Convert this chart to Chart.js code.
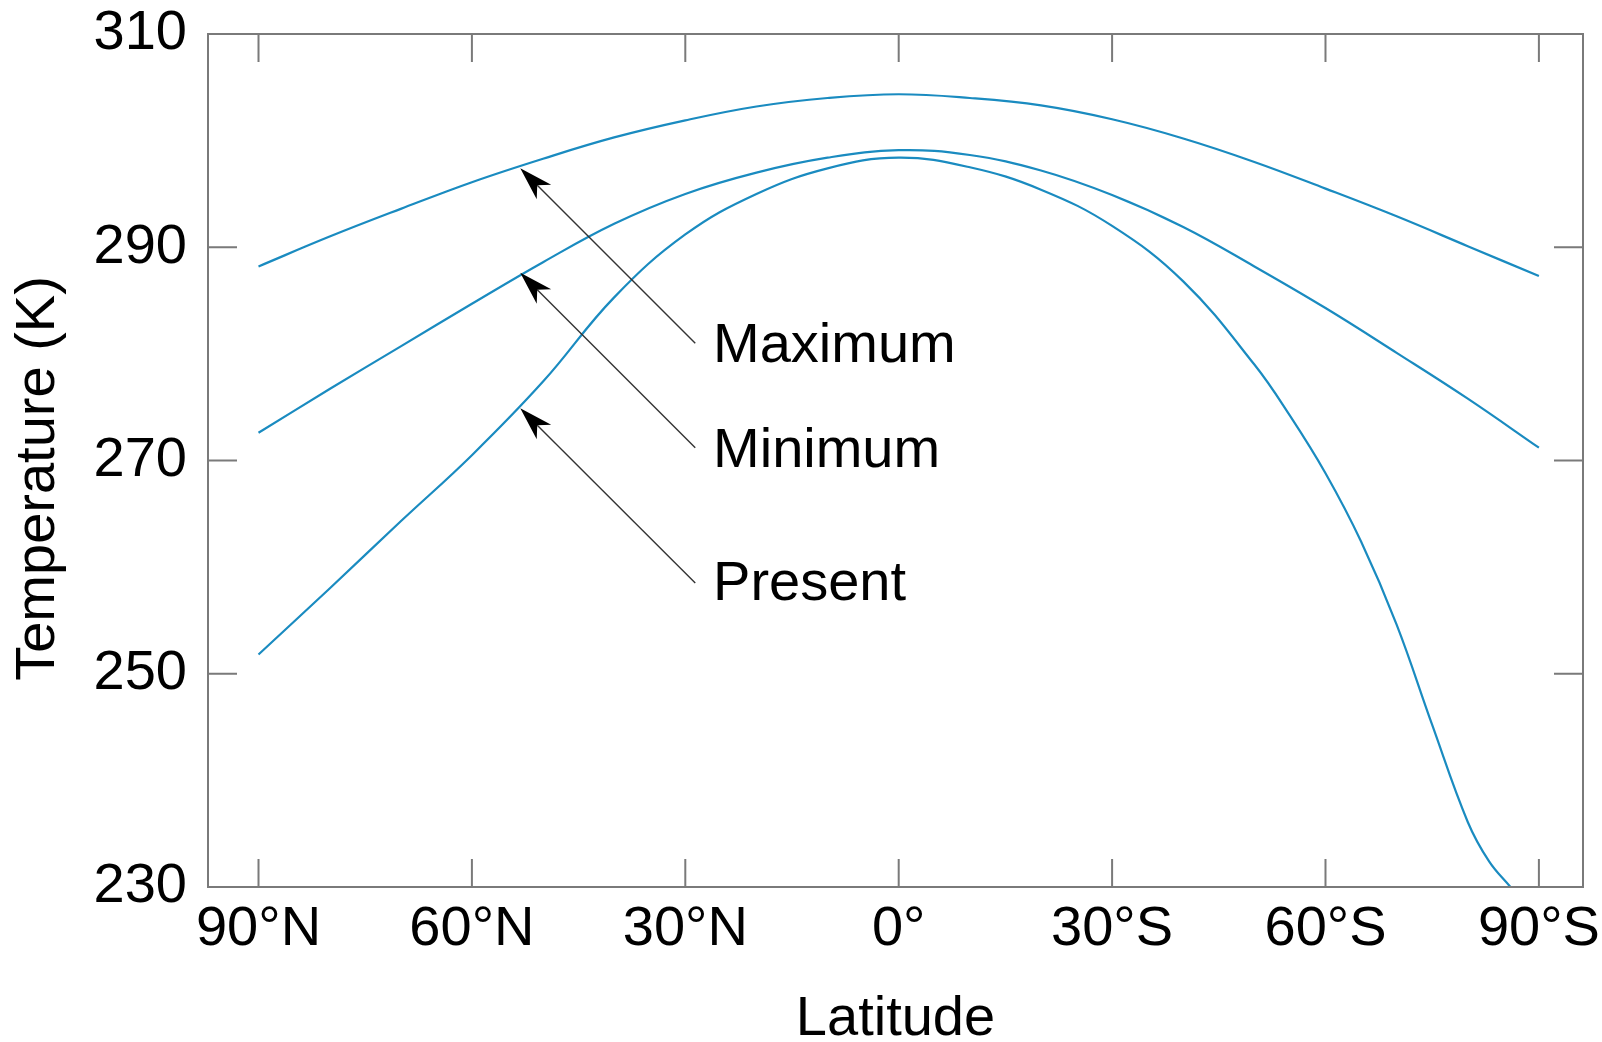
<!DOCTYPE html>
<html>
<head>
<meta charset="utf-8">
<script src="https://cdn.jsdelivr.net/npm/chart.js@4.4.1/dist/chart.umd.min.js"></script>
<style>
  html, body { margin: 0; padding: 0; background: #fff; }
  #wrap { width: 1602px; height: 1042px; }
</style>
</head>
<body>
<div id="wrap"><canvas id="tempChart"></canvas></div>
<script>
// latitude: negative = north, positive = south
var latitudes = [-90, -80, -70, -60, -50, -40, -30, -20, -10, 0, 10, 20, 30, 40, 50, 60, 70, 80, 90];
var maximumTemp = [288.2, 291.0, 293.6, 296.1, 298.3, 300.3, 301.9, 303.2, 304.0, 304.35, 304.0, 303.3, 302.0, 300.2, 298.0, 295.5, 292.9, 290.1, 287.3];
var minimumTemp = [272.6, 276.7, 280.7, 284.7, 288.6, 292.2, 295.0, 297.0, 298.4, 299.1, 298.65, 297.2, 294.9, 291.9, 288.2, 284.3, 280.1, 275.8, 271.2];
var presentLat = [-90, -80, -70, -60, -50, -40, -30, -20, -10, 0, 10, 20, 30, 40, 50, 55, 60, 65, 70, 75, 80, 83, 86];
var presentTemp = [251.8, 258.0, 264.3, 270.5, 277.4, 285.3, 291.2, 295.0, 297.4, 298.4, 297.5, 295.4, 292.0, 286.8, 279.0, 274.2, 268.8, 262.4, 254.6, 245.2, 236.1, 232.4, 230.0];

var latTicks = [-90, -60, -30, 0, 30, 60, 90];
var latTickLabels = ['90°N', '60°N', '30°N', '0°', '30°S', '60°S', '90°S'];
var tempTicks = [230, 250, 270, 290, 310];

// arrow annotations, in data units
var arrowNames = ['Maximum', 'Minimum', 'Present'];
var arrowTipLat = [-53.2, -53.2, -53.2];
var arrowTipTemp = [297.4, 287.6, 274.9];
var arrowTailLat = [-28.6, -28.6, -28.6];
var arrowTailTemp = [281.0, 271.2, 258.5];
var labelLat = -26.1;
var labelTemp = [279.2, 269.4, 256.9];

var lineColor = '#1a8bc0';
var fontFamily = '"Liberation Sans", Arial, Helvetica, sans-serif';

Chart.defaults.font.family = fontFamily;
Chart.defaults.color = '#000';

function toPoints(xs, ys) {
  return xs.map(function (x, i) { return { x: x, y: ys[i] }; });
}

function buildDataset(label, points) {
  return {
    label: label,
    data: points,
    borderColor: lineColor,
    backgroundColor: 'transparent',
    borderWidth: 2.2,
    pointRadius: 0,
    fill: false,
    tension: 0.4
  };
}

var framePlugin = {
  id: 'frame',
  afterDatasetsDraw: function (chart) {
    var ctx = chart.ctx, a = chart.chartArea;
    var xs = chart.scales.x, ys = chart.scales.y;
    ctx.save();
    ctx.strokeStyle = '#7a7a7a';
    ctx.lineWidth = 2;
    ctx.strokeRect(a.left, a.top, a.right - a.left, a.bottom - a.top);
    ctx.beginPath();
    latTicks.forEach(function (v) {
      var px = xs.getPixelForValue(v);
      ctx.moveTo(px, a.bottom); ctx.lineTo(px, a.bottom - 28);
      ctx.moveTo(px, a.top); ctx.lineTo(px, a.top + 28);
    });
    tempTicks.forEach(function (v) {
      var py = ys.getPixelForValue(v);
      ctx.moveTo(a.left, py); ctx.lineTo(a.left + 29, py);
      ctx.moveTo(a.right, py); ctx.lineTo(a.right - 29, py);
    });
    ctx.stroke();

    // y axis title, sits a little below the middle of the axis
    ctx.translate(39, (a.top + a.bottom) / 2 + 18);
    ctx.rotate(-Math.PI / 2);
    ctx.font = '56px ' + fontFamily;
    ctx.fillStyle = '#000';
    ctx.textAlign = 'center';
    ctx.textBaseline = 'middle';
    ctx.fillText('Temperature (K)', 0, 0);
    ctx.restore();
  }
};

var arrowPlugin = {
  id: 'arrows',
  afterDatasetsDraw: function (chart) {
    var ctx = chart.ctx;
    var xs = chart.scales.x, ys = chart.scales.y;
    ctx.save();
    arrowNames.forEach(function (name, i) {
      var tx = xs.getPixelForValue(arrowTipLat[i]), ty = ys.getPixelForValue(arrowTipTemp[i]);
      var sx = xs.getPixelForValue(arrowTailLat[i]), sy = ys.getPixelForValue(arrowTailTemp[i]);
      var ang = Math.atan2(sy - ty, sx - tx);
      var len = 35, spread = 17 * Math.PI / 180, notch = 24;

      ctx.strokeStyle = '#333';
      ctx.lineWidth = 1.4;
      ctx.beginPath();
      ctx.moveTo(sx, sy);
      ctx.lineTo(tx + notch * Math.cos(ang), ty + notch * Math.sin(ang));
      ctx.stroke();

      ctx.fillStyle = '#000';
      ctx.beginPath();
      ctx.moveTo(tx, ty);
      ctx.lineTo(tx + len * Math.cos(ang + spread), ty + len * Math.sin(ang + spread));
      ctx.lineTo(tx + notch * Math.cos(ang), ty + notch * Math.sin(ang));
      ctx.lineTo(tx + len * Math.cos(ang - spread), ty + len * Math.sin(ang - spread));
      ctx.closePath();
      ctx.fill();

      ctx.font = '56px ' + fontFamily;
      ctx.textAlign = 'left';
      ctx.textBaseline = 'alphabetic';
      ctx.fillText(name, xs.getPixelForValue(labelLat), ys.getPixelForValue(labelTemp[i]));
    });
    ctx.restore();
  }
};

new Chart(document.getElementById('tempChart'), {
  type: 'line',
  data: {
    datasets: [
      buildDataset('Maximum', toPoints(latitudes, maximumTemp)),
      buildDataset('Minimum', toPoints(latitudes, minimumTemp)),
      buildDataset('Present', toPoints(presentLat, presentTemp))
    ]
  },
  options: {
    responsive: true,
    maintainAspectRatio: false,
    animation: false,
    events: [],
    layout: { padding: { left: 11, top: 34, right: 19, bottom: 0 } },
    plugins: {
      legend: { display: false },
      tooltip: { enabled: false }
    },
    scales: {
      x: {
        type: 'linear',
        min: -97.1,
        max: 96.2,
        grid: { display: false, drawTicks: false },
        border: { display: false },
        afterBuildTicks: function (scale) {
          scale.ticks = latTicks.map(function (v) { return { value: v }; });
        },
        afterFit: function (scale) {
          scale.height = 155;
          scale.paddingLeft = 0;
          scale.paddingRight = 0;
        },
        ticks: {
          padding: 9,
          autoSkip: false,
          maxRotation: 0,
          font: { size: 56 },
          callback: function (v) { return latTickLabels[latTicks.indexOf(v)]; }
        },
        title: {
          display: true,
          text: 'Latitude',
          font: { size: 56, lineHeight: 0.8 },
          padding: 0
        }
      },
      y: {
        min: 230,
        max: 310,
        grid: { display: false, drawTicks: false },
        border: { display: false },
        afterBuildTicks: function (scale) {
          scale.ticks = tempTicks.map(function (v) { return { value: v }; });
        },
        afterFit: function (scale) {
          scale.width = 197;
          scale.paddingTop = 0;
          scale.paddingBottom = 0;
        },
        ticks: {
          padding: 21,
          font: { size: 56 }
        }
      }
    }
  },
  plugins: [framePlugin, arrowPlugin]
});
</script>
</body>
</html>
